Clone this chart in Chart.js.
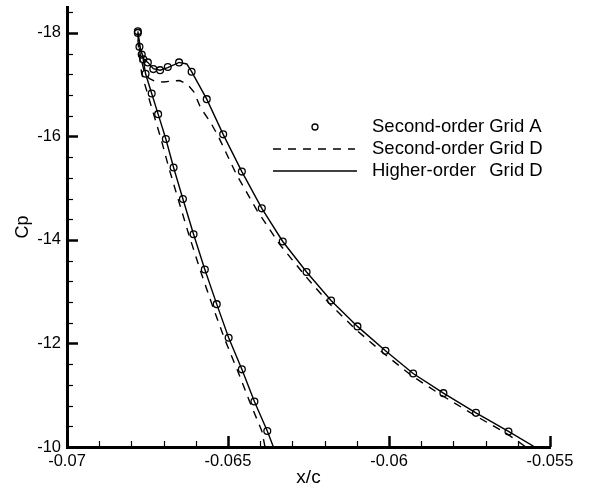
<!DOCTYPE html>
<html>
<head>
<meta charset="utf-8">
<script src="https://cdn.jsdelivr.net/npm/chart.js@4/dist/chart.umd.min.js"></script>
<style>
  body { margin: 0; background: #fff; }
  #wrap { width: 592px; height: 489px; }
</style>
</head>
<body>
<div id="wrap"><canvas id="myChart" width="592" height="489"></canvas></div>
<script>
// axis ticks
const xTicks = [-0.07, -0.065, -0.06, -0.055];
const xTickLabels = ["-0.07", "-0.065", "-0.06", "-0.055"];
const yTicks = [-18, -16, -14, -12, -10];
const yTickLabels = ["-18", "-16", "-14", "-12", "-10"];

const seriesLabels = ["Second-order Grid A", "Second-order Grid D", "Higher-order   Grid D"];

// Second-order Grid A (circles)
const gridAX = [-0.06378, -0.06418, -0.06457, -0.06498, -0.06535, -0.06572, -0.06607, -0.0664, -0.06669, -0.06693, -0.06717, -0.06737, -0.06756, -0.06763, -0.06768, -0.06775, -0.0678, -0.0678, -0.06749, -0.06732, -0.06711, -0.06687, -0.06652, -0.06613, -0.06566, -0.06515, -0.06457, -0.06395, -0.0633, -0.06256, -0.0618, -0.06098, -0.06011, -0.05925, -0.05831, -0.0573, -0.05629];
const gridAY = [-10.31, -10.88, -11.5, -12.11, -12.76, -13.43, -14.11, -14.79, -15.4, -15.95, -16.43, -16.83, -17.21, -17.49, -17.58, -17.73, -18.03, -18.0, -17.43, -17.3, -17.28, -17.34, -17.43, -17.25, -16.72, -16.04, -15.32, -14.61, -13.97, -13.38, -12.83, -12.33, -11.86, -11.42, -11.04, -10.66, -10.3];

// Second-order Grid D (dashed)
const secondDX = [-0.06385, -0.06395, -0.06433, -0.06472, -0.06512, -0.0655, -0.06587, -0.06622, -0.06655, -0.06684, -0.06708, -0.06731, -0.0675, -0.06768, -0.06775, -0.06779, -0.06781, -0.06772, -0.0676, -0.06745, -0.06725, -0.067, -0.06675, -0.0665, -0.06625, -0.06605, -0.06585, -0.06555, -0.0653, -0.06475, -0.0641, -0.0634, -0.06262, -0.06185, -0.06103, -0.06015, -0.05928, -0.05834, -0.05733, -0.05632, -0.05575];
const secondDY = [-10.0, -10.31, -10.88, -11.5, -12.11, -12.76, -13.43, -14.11, -14.79, -15.4, -15.95, -16.43, -16.83, -17.21, -17.55, -17.8, -18.0, -17.55, -17.25, -17.12, -17.06, -17.05, -17.07, -17.08, -17.0, -16.85, -16.55, -16.28, -16.0, -15.28, -14.57, -13.92, -13.32, -12.77, -12.27, -11.8, -11.37, -10.99, -10.61, -10.25, -10.0];

// Higher-order Grid D (solid)
const higherDX = [-0.06359, -0.06378, -0.06418, -0.06457, -0.06498, -0.06535, -0.06572, -0.06607, -0.0664, -0.06669, -0.06693, -0.06717, -0.06737, -0.06756, -0.06765, -0.06774, -0.0678, -0.06772, -0.06762, -0.06749, -0.06732, -0.06711, -0.06687, -0.06652, -0.06628, -0.06613, -0.06566, -0.06515, -0.06457, -0.06395, -0.0633, -0.06256, -0.0618, -0.06098, -0.06011, -0.05925, -0.05831, -0.0573, -0.05629, -0.05547];
const higherDY = [-10.0, -10.31, -10.88, -11.5, -12.11, -12.76, -13.43, -14.11, -14.79, -15.4, -15.95, -16.43, -16.83, -17.21, -17.55, -17.74, -18.03, -17.7, -17.5, -17.43, -17.31, -17.28, -17.33, -17.43, -17.4, -17.25, -16.72, -16.04, -15.32, -14.61, -13.97, -13.38, -12.83, -12.33, -11.86, -11.42, -11.04, -10.66, -10.3, -10.0];

const toPoints = (xs, ys) => xs.map((x, i) => ({ x: x, y: ys[i] }));

const FONT = "'Liberation Sans', Arial, Helvetica, sans-serif";

// inward major/minor ticks
const tickPlugin = {
  id: "inTicks",
  afterDraw(chart) {
    const ctx = chart.ctx;
    const xs = chart.scales.x;
    const ys = chart.scales.y;
    const a = chart.chartArea;
    ctx.save();
    ctx.strokeStyle = "#000";
    for (let i = 0; i <= 15; i++) {
      const px = Math.round(xs.getPixelForValue(-0.07 + i * 0.001)) + 0.5;
      const major = i % 5 === 0;
      ctx.lineWidth = major ? 2.5 : 1.2;
      ctx.beginPath();
      ctx.moveTo(px, a.bottom);
      ctx.lineTo(px, a.bottom - (major ? 11 : 6));
      ctx.stroke();
    }
    for (let i = 0; i <= 21; i++) {
      const py = Math.round(ys.getPixelForValue(-10 - i * 0.4)) + 0.5;
      const major = i % 5 === 0;
      ctx.lineWidth = major ? 2.5 : 1.2;
      ctx.beginPath();
      ctx.moveTo(a.left, py);
      ctx.lineTo(a.left + (major ? 11 : 6), py);
      ctx.stroke();
    }
    ctx.restore();
  },
};

// legend inside the plot
const legendPlugin = {
  id: "plotLegend",
  afterDraw(chart) {
    const ctx = chart.ctx;
    const rows = [127, 149, 171];
    const textX = 372;
    ctx.save();
    ctx.font = "18.5px " + FONT;
    ctx.fillStyle = "#000";
    ctx.textBaseline = "middle";
    ctx.strokeStyle = "#000";
    // circle
    ctx.lineWidth = 1.3;
    ctx.beginPath();
    ctx.arc(315, rows[0], 3, 0, Math.PI * 2);
    ctx.stroke();
    // dashed
    ctx.setLineDash([8, 7]);
    ctx.beginPath();
    ctx.moveTo(273, rows[1]);
    ctx.lineTo(355, rows[1]);
    ctx.stroke();
    // solid
    ctx.setLineDash([]);
    ctx.lineWidth = 1.4;
    ctx.beginPath();
    ctx.moveTo(273, rows[2]);
    ctx.lineTo(357, rows[2]);
    ctx.stroke();
    // labels, with "Grid" lined up
    const gridOffset = ctx.measureText(seriesLabels[0].split("Grid")[0]).width;
    seriesLabels.forEach((lab, i) => {
      const parts = lab.split(/\s{2,}/);
      ctx.fillText(parts[0], textX, rows[i]);
      if (parts.length > 1) ctx.fillText(parts[1], textX + gridOffset, rows[i]);
    });
    ctx.restore();
  },
};

const noPad = (s) => {
  s.paddingTop = 0;
  s.paddingBottom = 0;
  s.paddingLeft = 0;
  s.paddingRight = 0;
};

let myChart = document.getElementById("myChart");
new Chart(myChart, {
  type: "scatter",
  data: {
    datasets: [
      {
        label: seriesLabels[2],
        data: toPoints(higherDX, higherDY),
        showLine: true,
        borderColor: "#000",
        borderWidth: 1.4,
        pointRadius: 0,
        tension: 0,
      },
      {
        label: seriesLabels[1],
        data: toPoints(secondDX, secondDY),
        showLine: true,
        borderColor: "#000",
        borderWidth: 1.4,
        borderDash: [8, 7],
        pointRadius: 0,
        tension: 0,
      },
      {
        label: seriesLabels[0],
        data: toPoints(gridAX, gridAY),
        showLine: false,
        borderColor: "#000",
        backgroundColor: "rgba(0,0,0,0)",
        pointRadius: 3.4,
        pointBorderWidth: 1.3,
        pointBorderColor: "#000",
        pointBackgroundColor: "rgba(0,0,0,0)",
      },
    ],
  },
  options: {
    responsive: false,
    animation: false,
    events: [],
    layout: { padding: { left: 0, top: 7, right: 42, bottom: 0 } },
    plugins: {
      legend: { display: false },
      tooltip: { enabled: false },
    },
    scales: {
      x: {
        type: "linear",
        min: -0.07,
        max: -0.055,
        afterBuildTicks: (s) => {
          s.ticks = xTicks.map((v) => ({ value: v }));
        },
        afterFit: (s) => {
          s.height = 42;
          noPad(s);
        },
        grid: { display: false, drawTicks: false },
        border: { display: true, width: 3, color: "#000" },
        ticks: {
          padding: 5,
          color: "#000",
          maxRotation: 0,
          font: { family: FONT, size: 16.5 },
          callback: (v, i) => xTickLabels[i],
        },
        title: {
          display: true,
          text: "x/c",
          color: "#000",
          padding: { top: 0, bottom: 0 },
          font: { family: FONT, size: 19 },
        },
      },
      y: {
        type: "linear",
        reverse: true,
        min: -18.5,
        max: -10,
        afterBuildTicks: (s) => {
          s.ticks = yTicks.map((v) => ({ value: v }));
        },
        afterFit: (s) => {
          s.width = 67;
          noPad(s);
        },
        grid: { display: false, drawTicks: false },
        border: { display: true, width: 3, color: "#000" },
        ticks: {
          padding: 6,
          color: "#000",
          font: { family: FONT, size: 16.5 },
          callback: (v, i) => yTickLabels[i],
        },
        title: {
          display: true,
          text: "Cp",
          color: "#000",
          padding: { top: 12, bottom: 0 },
          font: { family: FONT, size: 18 },
        },
      },
    },
  },
  plugins: [tickPlugin, legendPlugin],
});
</script>
</body>
</html>
